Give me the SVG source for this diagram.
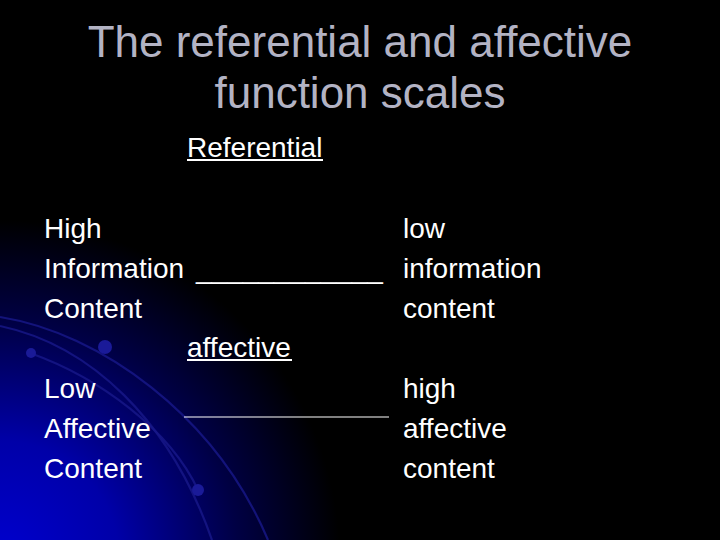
<svg xmlns="http://www.w3.org/2000/svg" width="720" height="540" viewBox="0 0 720 540">
<defs>
<radialGradient id="glow" gradientUnits="userSpaceOnUse" cx="0" cy="560" r="340">
<stop offset="0" stop-color="#0000d0"/>
<stop offset="0.35" stop-color="#0000a8"/>
<stop offset="0.7" stop-color="#000044"/>
<stop offset="1" stop-color="#000000"/>
</radialGradient>
<style>
.title{font-family:"Liberation Sans",Arial,sans-serif;font-size:44px;fill:#b3b3c4;text-anchor:middle}
.t{font-family:"Liberation Sans",Arial,sans-serif;font-size:28px;fill:#ffffff}
.arc{fill:none;stroke:#18188a;stroke-width:2.2;stroke-opacity:0.8}
.dot{fill:#1a1a98}
</style>
</defs>
<rect width="720" height="540" fill="#000"/>
<rect width="720" height="540" fill="url(#glow)"/>
<g id="decor">
<path class="arc" d="M0,317 C100,333 215,415 268,540"/>
<path class="arc" d="M0,326 C90,345 170,420 212,540"/>
<path class="arc" d="M30,353 C100,378 170,430 198,490"/>
<circle class="dot" cx="105" cy="347" r="7"/>
<circle class="dot" cx="31" cy="353" r="5"/>
<circle class="dot" cx="198" cy="490" r="6"/>
</g>
<g id="title">
<text class="title" x="360" y="57">The referential and affective</text>
<text class="title" x="360" y="108">function scales</text>
</g>
<g id="referential">
<text class="t" x="187" y="157">Referential</text>
<rect x="187" y="159" width="136" height="2" fill="#fff"/>
</g>
<g id="left-top">
<text class="t" x="44" y="238">High</text>
<text class="t" x="44" y="278">Information</text>
<text class="t" x="44" y="318">Content</text>
</g>
<g id="scale1">
<text class="t" x="196" y="278">____________</text>
</g>
<g id="right-top">
<text class="t" x="403" y="238">low</text>
<text class="t" x="403" y="278">information</text>
<text class="t" x="403" y="318">content</text>
</g>
<g id="affective">
<text class="t" x="187" y="357">affective</text>
<rect x="187" y="359" width="105" height="2" fill="#fff"/>
</g>
<g id="left-bottom">
<text class="t" x="44" y="398">Low</text>
<text class="t" x="44" y="438">Affective</text>
<text class="t" x="44" y="478">Content</text>
</g>
<g id="connectors">
<line x1="184" y1="417" x2="389" y2="417" stroke="#fff" stroke-width="1.2"/>
</g>
<g id="right-bottom">
<text class="t" x="403" y="398">high</text>
<text class="t" x="403" y="438">affective</text>
<text class="t" x="403" y="478">content</text>
</g>
</svg>
